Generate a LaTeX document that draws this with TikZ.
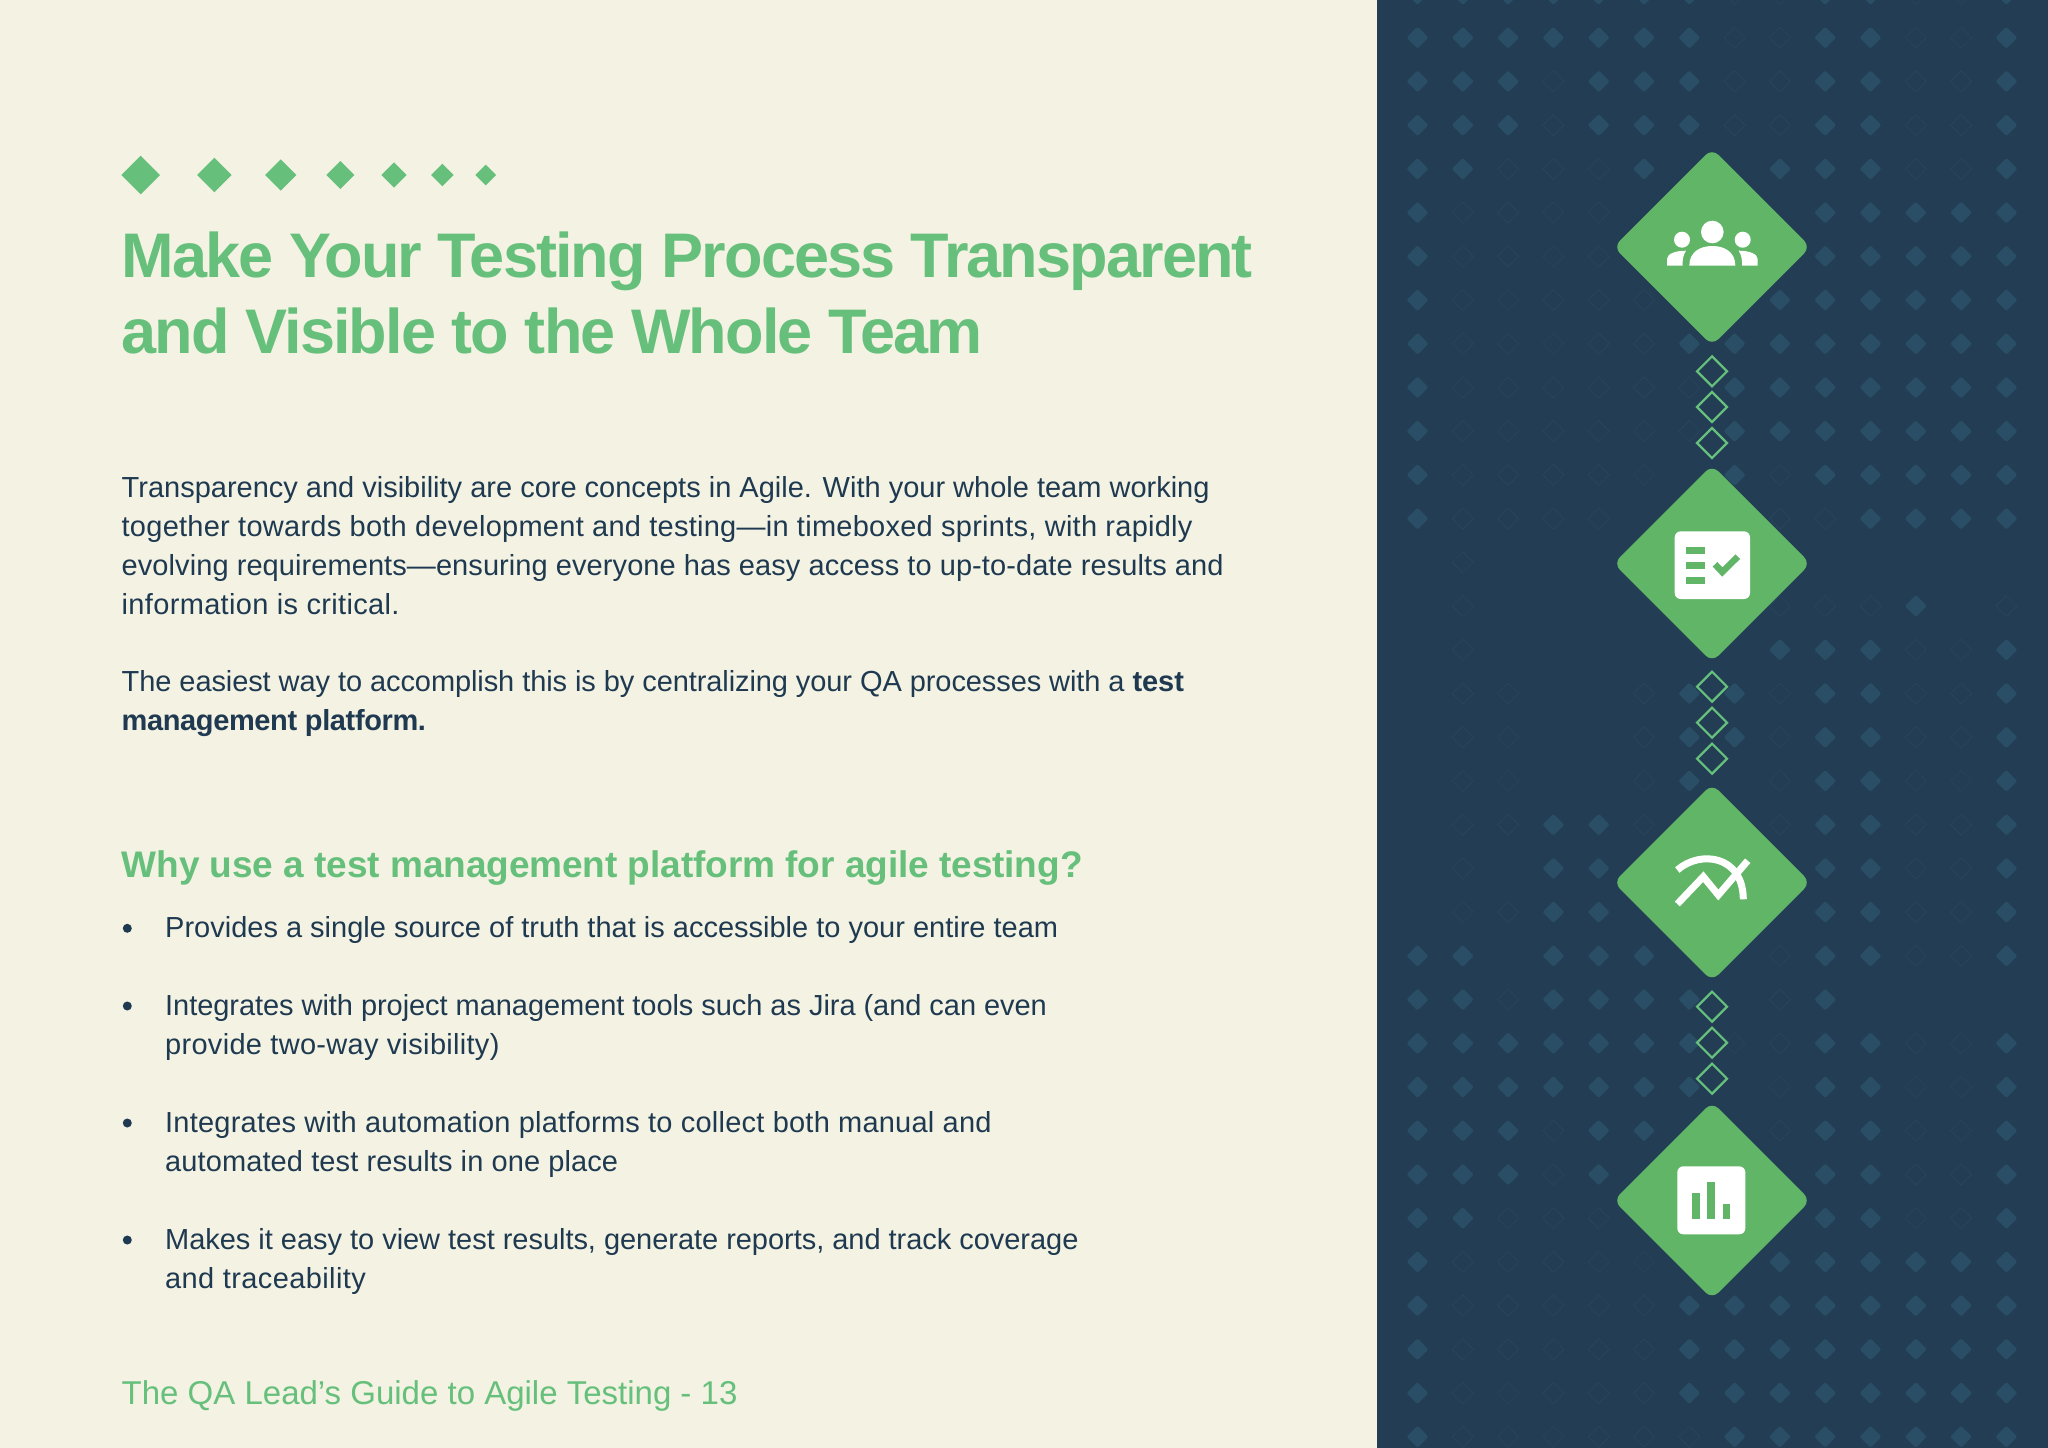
\documentclass[tikz,border=0pt]{standalone}
\usepackage{fontspec}
\setmainfont{Liberation Sans}
\usetikzlibrary{shapes.geometric}
\definecolor{cream}{HTML}{F3F2E3}
\definecolor{navy}{HTML}{223D54}
\definecolor{patblue}{HTML}{294E65}
\definecolor{patfaint}{HTML}{28455B}
\definecolor{leaf}{HTML}{61B566}
\definecolor{mint}{HTML}{66C07B}
\definecolor{ink}{HTML}{1F3A50}
\tikzset{
  gem/.style={diamond, aspect=1, inner sep=0pt, outer sep=0pt, fill=mint, minimum size=#1},
  bigkite/.style={diamond, aspect=1, inner sep=0pt, outer sep=0pt, fill=leaf, minimum size=197pt, rounded corners=9pt},
  linkkite/.style={diamond, aspect=1, inner sep=0pt, outer sep=0pt, draw=mint, line width=2.2pt, minimum size=30pt},
  patfill/.style={diamond, aspect=1, inner sep=0pt, outer sep=0pt, fill=patblue, minimum size=22pt, rounded corners=2pt},
  patline/.style={diamond, aspect=1, inner sep=0pt, outer sep=0pt, draw=patfaint, line width=0.8pt, minimum size=21pt},
  headline/.style={anchor=base west, inner sep=0pt, text=mint, font=\bfseries\fontsize{63}{70}\selectfont\addfontfeature{LetterSpace=-3}},
  subhead/.style={anchor=base west, inner sep=0pt, text=mint, font=\bfseries\fontsize{37}{44}\selectfont\addfontfeature{LetterSpace=-0.2}},
  bodyline/.style={anchor=base west, inner sep=0pt, text=ink, font=\fontsize{29}{35}\selectfont\addfontfeature{LetterSpace=#1}},
  bodyline/.default=0,
  footline/.style={anchor=base west, inner sep=0pt, text=mint, font=\fontsize{33}{40}\selectfont},
  bulletdot/.style={circle, inner sep=0pt, outer sep=0pt, fill=ink, minimum size=9pt},
}
\begin{document}
\begin{tikzpicture}[x=1pt, y=-1pt]
  \useasboundingbox (0,0) rectangle (2048,1448);
  \fill[cream] (0,0) rectangle (2048,1448);
  \fill[navy] (1376.5,0) rectangle (2048,1448);

  % Background pattern: 1 filled, 0 faint outline, 2 nothing
  \foreach \cells [count=\k from -1] in {
    {1,1,1,1,1,1,1,0,0,1,1,0,0,1},
    {1,1,1,1,1,1,1,0,0,1,1,0,0,1},
    {1,1,1,0,1,1,1,0,0,1,1,0,0,1},
    {1,1,1,0,1,1,1,0,0,1,1,0,0,1},
    {1,1,0,0,0,1,2,2,1,1,1,0,0,1},
    {1,0,0,0,0,2,2,2,2,1,1,1,1,1},
    {1,0,0,0,0,2,2,2,2,1,1,1,1,1},
    {1,0,0,0,0,0,2,2,1,1,1,1,1,1},
    {1,0,0,0,0,0,1,1,1,1,1,1,1,1},
    {1,0,0,0,0,0,0,1,1,1,1,1,1,1},
    {1,0,0,0,0,0,0,1,1,1,1,1,1,1},
    {1,0,0,0,0,0,2,1,0,1,1,1,1,1},
    {1,0,0,0,0,2,2,2,0,0,1,1,1,1},
    {2,0,2,2,2,2,2,2,2,2,2,2,2,2},
    {2,0,2,2,2,2,2,2,0,0,0,1,2,0},
    {2,0,2,2,2,2,2,2,1,1,1,0,0,1},
    {2,0,0,2,2,0,1,1,0,1,1,0,0,1},
    {2,0,0,2,2,0,1,1,0,1,1,0,0,1},
    {2,0,0,2,2,0,1,2,0,1,1,0,0,1},
    {2,0,0,1,1,0,2,2,0,1,1,0,0,1},
    {2,0,2,1,1,2,2,2,2,1,1,0,0,1},
    {2,0,0,1,1,2,2,2,2,1,1,0,0,1},
    {1,1,2,1,1,1,2,2,0,1,1,0,0,1},
    {1,1,0,1,1,1,1,2,0,1,2,2,2,2},
    {1,1,1,1,1,1,1,0,0,1,1,0,0,1},
    {1,1,1,1,1,1,1,2,0,1,1,0,0,1},
    {1,1,1,0,1,1,2,2,0,1,1,0,0,1},
    {1,1,1,0,1,2,2,2,2,1,1,0,0,1},
    {1,1,0,0,0,2,2,2,2,1,1,0,0,1},
    {1,0,0,0,0,0,2,2,1,1,1,1,1,1},
    {1,0,0,0,0,0,1,1,1,1,1,1,1,1},
    {1,0,0,0,0,0,1,1,1,1,1,1,1,1},
    {1,0,0,0,0,0,1,1,1,1,1,1,1,1},
    {1,0,0,0,0,0,0,1,1,1,1,1,1,1}} {
    \foreach \cell [count=\c from 0] in \cells {
      \ifnum\cell=1
        \node[patfill] (fill\k-\c) at ({1417.5+45.3*\c},{37.7+43.72*\k}) {};
      \fi
      \ifnum\cell=0
        \node[patline] (line\k-\c) at ({1417.5+45.3*\c},{37.7+43.72*\k}) {};
      \fi
    }
  }

  % Big diamonds
  \node[bigkite] (team) at (1712,247) {};
  \node[bigkite] (check) at (1712,563.5) {};
  \node[bigkite] (trend) at (1712,882.5) {};
  \node[bigkite] (bars) at (1712,1200.5) {};

  % Small diamonds between them
  \foreach \y in {371.3,407,443,686.7,722.7,758.7,1006.7,1042.7,1078.7} {
    \node[linkkite] at (1712,\y) {};
  }

  % Team icon
  \fill[white] (1712.3,232) circle (11.3);
  \fill[white] (1682,239.7) circle (8);
  \fill[white] (1742.7,239.7) circle (8);
  \fill[white] (1689.3,265.7) .. controls (1689.3,252) and (1700,246) .. (1712.3,246)
    .. controls (1724.6,246) and (1735.3,252) .. (1735.3,265.7) -- cycle;
  \fill[white] (1667,265.7) -- (1667,259) .. controls (1667,254) and (1675,250.7) .. (1686,250.7)
    .. controls (1683,255) and (1682.5,260) .. (1682.5,265.7) -- cycle;
  \fill[white] (1757.6,265.7) -- (1757.6,259) .. controls (1757.6,254) and (1749.6,250.7) .. (1738.6,250.7)
    .. controls (1741.6,255) and (1742.1,260) .. (1742.1,265.7) -- cycle;

  % Checklist icon
  \fill[white, rounded corners=6pt] (1674.7,531.3) rectangle (1750,599);
  \fill[leaf] (1686,546.7) rectangle (1704.7,553.7);
  \fill[leaf] (1686,561.7) rectangle (1704.7,568.7);
  \fill[leaf] (1686,576.7) rectangle (1704.7,584);
  \draw[leaf, line width=6.5pt] (1715,564.3) -- (1722.3,572) -- (1737.7,556.7);

  % Trend icon
  \draw[white, line width=7pt] (1677.3,870) .. controls (1700,850) and (1743,855) .. (1743.3,899.3);
  \draw[white, line width=7pt] (1677.3,904) -- (1703.3,876.7) -- (1718.3,895) -- (1747.7,860.7);

  % Bar chart icon
  \fill[white, rounded corners=6pt] (1677.3,1166.3) rectangle (1745.3,1234.3);
  \fill[leaf] (1692.3,1192.7) rectangle (1700,1219.3);
  \fill[leaf] (1707.3,1181.7) rectangle (1715,1219.3);
  \fill[leaf] (1722.7,1204) rectangle (1730.3,1219.3);

  % Row of shrinking diamonds
  \node[gem=38.6pt] (g1) at (140.7,175) {};
  \node[gem=34.6pt] (g2) at (214.3,175) {};
  \node[gem=31.4pt] (g3) at (280.7,175) {};
  \node[gem=28pt] (g4) at (340.3,175) {};
  \node[gem=25.4pt] (g5) at (394,175) {};
  \node[gem=22.6pt] (g6) at (442.3,175) {};
  \node[gem=20.6pt] (g7) at (485.7,175) {};

  % Title
  \node[headline] (title1) at (121.5,277.3) {Make Your Testing Process Transparent};
  \node[headline] (title2) at (121.5,353.3) {and Visible to the Whole Team};

  % Text
  \node[bodyline] (intro1) at (121.5,497) {Transparency and visibility are core concepts in Agile. With your whole team working};
  \node[bodyline=0.9] (intro2) at (121.5,536) {together towards both development and testing—in timeboxed sprints, with rapidly};
  \node[bodyline=0.28] (intro3) at (121.5,575) {evolving requirements—ensuring everyone has easy access to up-to-date results and};
  \node[bodyline=1.17] (intro4) at (121.5,614) {information is critical.};
  \node[bodyline=-0.32] (easy1) at (121.5,691.5) {The easiest way to accomplish this is by centralizing your QA processes with a \textbf{test}};
  \node[bodyline=-1.28] (easy2) at (121.5,730.5) {\textbf{management platform.}};
  \node[subhead] (why) at (121.5,877.5) {Why use a test management platform for agile testing?};

  % Bullets
  \node[bulletdot] (dot1) at (127.3,928.3) {};
  \node[bodyline] (item1) at (165,937.5) {Provides a single source of truth that is accessible to your entire team};
  \node[bulletdot] (dot2) at (127.3,1006) {};
  \node[bodyline=-0.2] (item2a) at (165,1015.5) {Integrates with project management tools such as Jira (and can even};
  \node[bodyline=1.03] (item2b) at (165,1054.5) {provide two-way visibility)};
  \node[bulletdot] (dot3) at (127.3,1123) {};
  \node[bodyline=0.79] (item3a) at (165,1132.5) {Integrates with automation platforms to collect both manual and};
  \node[bodyline=0.38] (item3b) at (165,1171.5) {automated test results in one place};
  \node[bulletdot] (dot4) at (127.3,1240) {};
  \node[bodyline=-0.13] (item4a) at (165,1249) {Makes it easy to view test results, generate reports, and track coverage};
  \node[bodyline=1.4] (item4b) at (165,1288) {and traceability};

  % Footer
  \node[footline] (foot) at (121.5,1404.5) {The QA Lead’s Guide to Agile Testing - 13};
\end{tikzpicture}
\end{document}
